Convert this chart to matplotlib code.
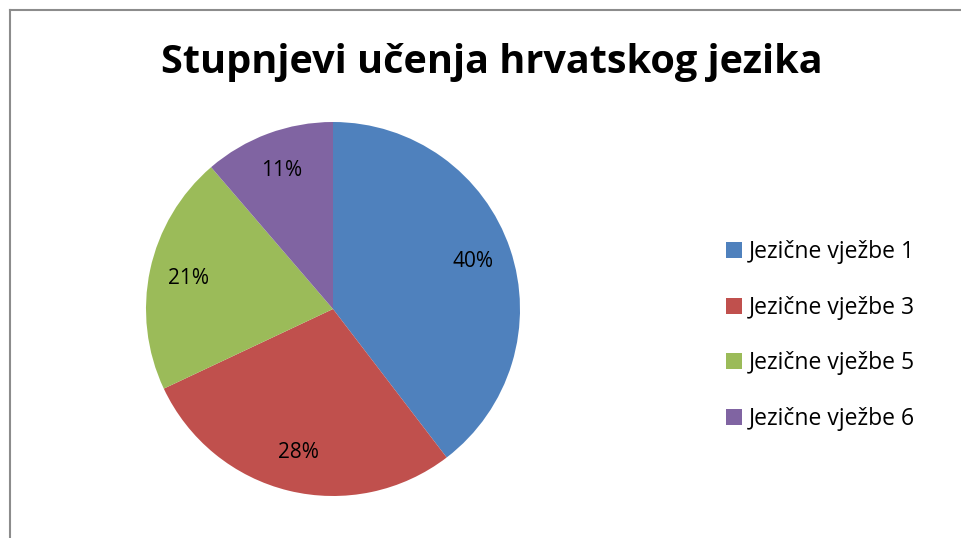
import matplotlib.pyplot as plt
from matplotlib.lines import Line2D

labels = ["Jezične vježbe 1", "Jezične vježbe 3", "Jezične vježbe 5", "Jezične vježbe 6"]
values = [39.6, 28.4, 20.7, 11.3]
colors = ["#4F81BD", "#C0504D", "#9BBB59", "#8064A2"]

W, H = 961, 538
fig = plt.figure(figsize=(W / 100, H / 100), dpi=100)
fig.patch.set_facecolor("white")

# chart frame (only left and top edges fall inside the picture)
fig.add_artist(Line2D([9.5 / W, 9.5 / W], [0, 1 - 10 / H], color="#8c8c8c", lw=1.5, transform=fig.transFigure))
fig.add_artist(Line2D([9.5 / W, 1], [1 - 10 / H, 1 - 10 / H], color="#8c8c8c", lw=1.5, transform=fig.transFigure))

cx, cy, r = 333, 309, 187
ax = fig.add_axes([(cx - r) / W, (H - cy - r) / H, 2 * r / W, 2 * r / H])
wedges, texts, autotexts = ax.pie(values, colors=colors, startangle=90, counterclock=False,
                                  autopct="%1.0f%%", pctdistance=0.79,
                                  textprops={"fontsize": 15, "family": "Open Sans", "color": "black"})
ax.set_xlim(-1, 1)
ax.set_ylim(-1, 1)
ax.set_aspect("equal")
ax.axis("off")

fig.text(492 / W, 1 - 63 / H, "Stupnjevi učenja hrvatskog jezika", ha="center", va="center",
         fontsize=28.5, fontweight="bold", family="Open Sans")

fig.legend(wedges, labels, loc="center left", bbox_to_anchor=(705 / W, 1 - 335.5 / H),
           frameon=False, handlelength=0.7, handleheight=0.7, handletextpad=0.3,
           labelspacing=1.38, prop={"family": "Open Sans", "size": 16.5})

fig.savefig("out.png", dpi=100)
